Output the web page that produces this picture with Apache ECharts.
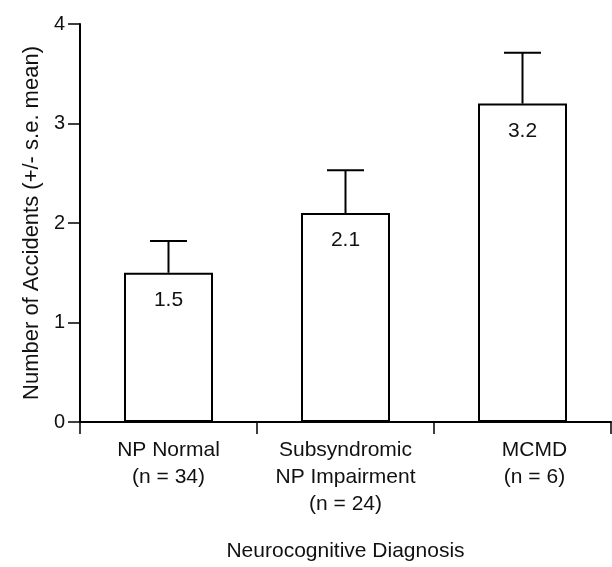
<!DOCTYPE html>
<html>
<head>
<meta charset="utf-8">
<script src="https://cdn.jsdelivr.net/npm/echarts@6/dist/echarts.min.js"></script>
<style>
html,body{margin:0;padding:0;background:#fff;}
#chart{width:612px;height:567px;}
</style>
</head>
<body>
<div id="chart"></div>
<script>
const categories = ['NP Normal\n(n = 34)', 'Subsyndromic\nNP Impairment\n(n = 24)', 'MCMD\n(n = 6)'];
const means = [1.5, 2.1, 3.2];
const seUpper = [1.82, 2.53, 3.71];
const yMin = 0, yMax = 4, yStep = 1;
const xTitle = 'Neurocognitive Diagnosis';
const yTitle = 'Number of Accidents (+/- s.e. mean)';

const FONT = '"Liberation Sans", Arial, Helvetica, sans-serif';
const chart = echarts.init(document.getElementById('chart'), null, {renderer: 'canvas'});

const catData = categories.map((c, i) => i === 2 ? {value: c, textStyle: {padding: [0, 0, 0, 24]}} : c);

chart.setOption({
  backgroundColor: '#fff',
  animation: false,
  grid: {left: 80, right: 1, top: 24, bottom: 145, containLabel: false},
  xAxis: {
    type: 'category',
    data: catData,
    boundaryGap: true,
    axisLine: {show: true, lineStyle: {color: '#000', width: 2}},
    axisTick: {show: true, inside: false, length: 12, alignWithLabel: false, lineStyle: {color: '#000', width: 1.5}},
    axisLabel: {color: '#111', fontFamily: FONT, fontSize: 21, lineHeight: 27, margin: 15, interval: 0},
    name: xTitle,
    nameLocation: 'middle',
    nameGap: 119,
    nameTextStyle: {color: '#111', fontFamily: FONT, fontSize: 21}
  },
  yAxis: {
    type: 'value',
    min: yMin, max: yMax, interval: yStep,
    splitLine: {show: false},
    axisLine: {show: true, lineStyle: {color: '#000', width: 2}},
    axisTick: {show: true, inside: false, length: 12, lineStyle: {color: '#000', width: 1.5}},
    axisLabel: {color: '#111', fontFamily: FONT, fontSize: 20, margin: 15},
    name: yTitle,
    nameLocation: 'middle',
    nameRotate: 90,
    nameGap: 36,
    nameTextStyle: {color: '#111', fontFamily: FONT, fontSize: 22}
  },
  series: [
    {
      type: 'bar',
      data: means,
      barWidth: 89,
      itemStyle: {color: '#fff', borderColor: '#000', borderWidth: 2},
      label: {
        show: true, position: 'insideTop', distance: 17,
        color: '#111', fontFamily: FONT, fontSize: 21,
        formatter: p => p.value.toFixed(1)
      },
      z: 2
    },
    {
      type: 'custom',
      data: means.map((m, i) => [i, m, seUpper[i]]),
      z: 3,
      renderItem: function (params, api) {
        const x = api.value(0);
        const base = api.coord([x, api.value(1)]);
        const top = api.coord([x, api.value(2)]);
        const half = 18.5;
        const style = {stroke: '#000', lineWidth: 2, fill: null};
        return {
          type: 'group',
          children: [
            {type: 'line', shape: {x1: base[0], y1: base[1], x2: top[0], y2: top[1]}, style: style},
            {type: 'line', shape: {x1: top[0] - half, y1: top[1], x2: top[0] + half, y2: top[1]}, style: style}
          ]
        };
      }
    }
  ]
});
</script>
</body>
</html>
